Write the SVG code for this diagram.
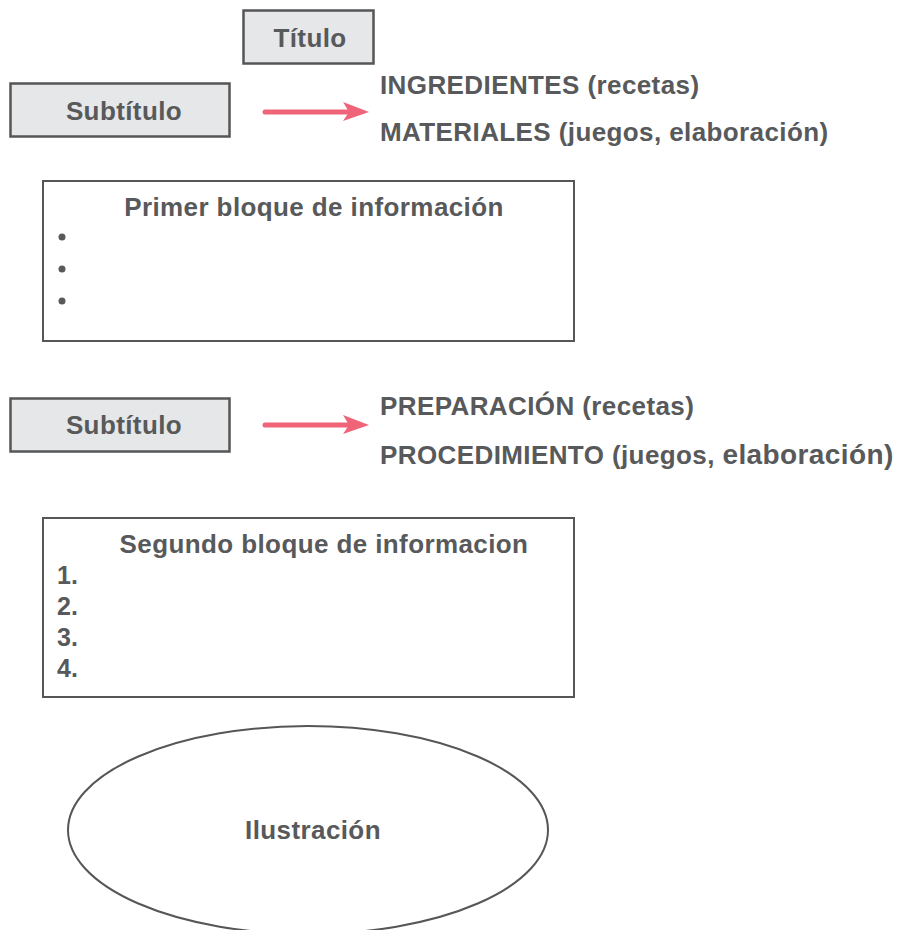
<svg xmlns="http://www.w3.org/2000/svg" width="905" height="930" viewBox="0 0 905 930">
<style>
.t{font-family:"Liberation Sans",Arial,sans-serif;font-weight:bold;font-size:26px;letter-spacing:0.4px;fill:#58595b}
.n{font-size:25px;letter-spacing:0}
.c{text-anchor:middle}
.box{fill:#e6e7e9;stroke:#555657;stroke-width:2.5}
.blk{fill:#fff;stroke:#555657;stroke-width:2}
.arr{stroke:#ef6478;stroke-width:5;stroke-linecap:round;fill:none}
.hd{fill:#ef6478}
</style>
<rect width="905" height="930" fill="#fff"/>
<g id="titulo">
<rect class="box" x="243.5" y="10.5" width="130" height="53"/>
<text class="t c" x="310" y="47">Título</text>
</g>
<g id="subtitulo1">
<rect class="box" x="10.5" y="83.5" width="219" height="53"/>
<text class="t c" x="124" y="119.5">Subtítulo</text>
</g>
<g id="ingredientes">
<text class="t" x="380" y="94">INGREDIENTES (recetas)</text>
<text class="t" x="380" y="141">MATERIALES (juegos, elaboración)</text>
</g>
<g id="bloque1">
<rect class="blk" x="43" y="181" width="531" height="160"/>
<text class="t c" x="314" y="216">Primer bloque de información</text>
<circle cx="62" cy="237" r="3.5" fill="#58595b"/>
<circle cx="62" cy="269" r="3.5" fill="#58595b"/>
<circle cx="62" cy="301" r="3.5" fill="#58595b"/>
</g>
<g id="subtitulo2">
<rect class="box" x="10.5" y="398.5" width="219" height="53"/>
<text class="t c" x="124" y="434">Subtítulo</text>
</g>
<g id="preparacion">
<text class="t" x="380" y="415">PREPARACIÓN (recetas)</text>
<text class="t" x="380" y="464">PROCEDIMIENTO (juegos, <tspan font-size="28">elaboración)</tspan></text>
</g>
<g id="bloque2">
<rect class="blk" x="43" y="518" width="531" height="179"/>
<text class="t c" x="324" y="553">Segundo bloque de informacion</text>
<text class="t n" x="57" y="584">1.</text>
<text class="t n" x="57" y="615">2.</text>
<text class="t n" x="57" y="646">3.</text>
<text class="t n" x="57" y="677">4.</text>
</g>
<g id="ilustracion">
<ellipse cx="308" cy="830" rx="240" ry="104" fill="#fff" stroke="#555657" stroke-width="2"/>
<text class="t c" x="313" y="839">Ilustración</text>
</g>
<g id="connectors">
<line class="arr" x1="265" y1="112" x2="350" y2="112"/>
<path class="hd" d="M343,102 L369,112 L343,121 L349,112 z"/>
<line class="arr" x1="265" y1="425" x2="350" y2="425"/>
<path class="hd" d="M343,415 L369,425 L343,434 L349,425 z"/>
</g>
</svg>
